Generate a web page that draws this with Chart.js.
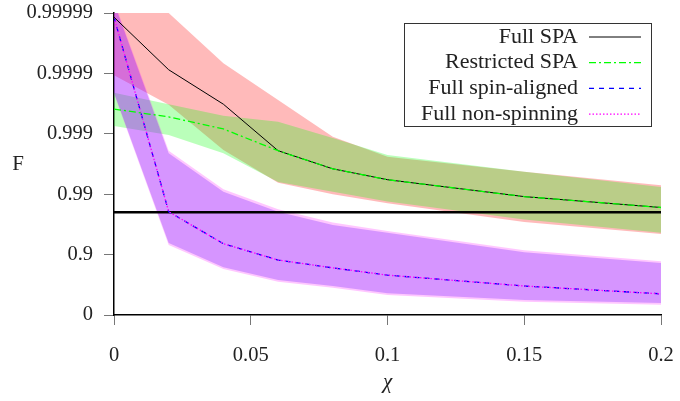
<!DOCTYPE html>
<html>
<head>
<meta charset="utf-8">
<script src="https://cdn.jsdelivr.net/npm/chart.js@4"></script>
<style>
  html, body { margin: 0; padding: 0; background: #fff; }
  #wrap { width: 680px; height: 401px; position: relative; }
</style>
</head>
<body>
<div id="wrap"><canvas id="myChart" width="680" height="401"></canvas></div>
<script>
// chi values (x axis)
const chi = [0, 0.02, 0.04, 0.06, 0.08, 0.1, 0.15, 0.2];

// y values are in "nines": -log10(1 - F), so 0.99 -> 2, 0.999 -> 3 ...
const fullSPA = [4.93, 4.06, 3.49, 2.72, 2.42, 2.24, 1.96, 1.78];
const fullSPAHigh = [5.2, 5.0, 4.17, 3.56, 2.95, 2.62, 2.37, 2.15];
const fullSPALow = [3.97, 3.48, 2.73, 2.19, 2.0, 1.85, 1.54, 1.34];

const restrictedSPA = [3.41, 3.28, 3.08, 2.72, 2.42, 2.24, 1.96, 1.78];
const restrictedHigh = [3.68, 3.49, 3.3, 3.2, 2.93, 2.65, 2.37, 2.12];
const restrictedLow = [3.13, 2.98, 2.68, 2.2, 2.04, 1.88, 1.58, 1.36];

const spinAligned = [4.93, 1.71, 1.18, 0.91, 0.78, 0.66, 0.48, 0.35];
const spinAlignedHigh = [5.17, 2.68, 2.04, 1.71, 1.49, 1.36, 1.04, 0.86];
const spinAlignedLow = [3.68, 1.19, 0.79, 0.58, 0.48, 0.36, 0.25, 0.2];

const nonSpinning = [4.93, 1.71, 1.18, 0.91, 0.78, 0.66, 0.48, 0.35];
const nonSpinningHigh = [5.2, 2.72, 2.08, 1.75, 1.53, 1.39, 1.07, 0.89];
const nonSpinningLow = [3.66, 1.16, 0.76, 0.55, 0.45, 0.33, 0.22, 0.17];

// F = 0.98 threshold line
const threshold = [1.7, 1.7];
const thresholdChi = [0, 0.2];

const fTickLabels = ['0', '0.9', '0.99', '0.999', '0.9999', '0.99999'];
const seriesNames = ['Full SPA', 'Restricted SPA', 'Full spin-aligned', 'Full non-spinning'];

const SERIF = '"Liberation Serif", "DejaVu Serif", serif';

function pts(xs, ys) {
  return xs.map((x, i) => ({ x: x, y: ys[i] }));
}

// band = upper edge filled down to the next dataset (lower edge)
function band(high, low, color) {
  return [
    { data: pts(chi, high), fill: '+1', backgroundColor: color, borderWidth: 0, pointRadius: 0 },
    { data: pts(chi, low), fill: false, borderWidth: 0, pointRadius: 0 }
  ];
}

const datasets = [
  // lines (first index is drawn on top)
  { label: seriesNames[1], data: pts(chi, restrictedSPA), borderColor: '#00ff00', borderWidth: 1.3,
    borderDash: [7, 3, 2, 3], fill: false, pointRadius: 0 },
  { label: seriesNames[0], data: pts(chi, fullSPA), borderColor: '#000', borderWidth: 1,
    fill: false, pointRadius: 0 },
  { label: seriesNames[3], data: pts(chi, nonSpinning), borderColor: '#ff00ff', borderWidth: 1.3,
    borderDash: [1.5, 2], fill: false, pointRadius: 0 },
  { label: seriesNames[2], data: pts(chi, spinAligned), borderColor: '#0000ff', borderWidth: 1.3,
    borderDash: [5, 5], fill: false, pointRadius: 0 },
  { data: pts(thresholdChi, threshold), borderColor: '#000', borderWidth: 2.5, fill: false, pointRadius: 0 },
  // shaded bands (first index ends up on top)
  ...band(spinAlignedHigh, spinAlignedLow, 'rgba(90, 0, 255, 0.25)'),
  ...band(nonSpinningHigh, nonSpinningLow, 'rgba(255, 0, 255, 0.22)'),
  ...band(restrictedHigh, restrictedLow, 'rgba(0, 255, 0, 0.27)'),
  ...band(fullSPAHigh, fullSPALow, 'rgba(255, 0, 0, 0.27)')
];

// Draws the boxed legend (text left of the sample line) and the unrotated "F"
const extras = {
  id: 'extras',
  afterDraw(chart) {
    const ctx = chart.ctx;
    const area = chart.chartArea;
    ctx.save();
    ctx.fillStyle = '#222';
    ctx.font = '21px ' + SERIF;
    ctx.textAlign = 'center';
    ctx.textBaseline = 'middle';
    ctx.fillText('F', 18, (area.top + area.bottom) / 2);

    // legend box
    const box = { x: 404.5, y: 23.5, w: 247, h: 103 };
    ctx.fillStyle = '#fff';
    ctx.fillRect(box.x, box.y, box.w, box.h);
    ctx.strokeStyle = '#333';
    ctx.lineWidth = 1;
    ctx.strokeRect(box.x, box.y, box.w, box.h);

    ctx.font = '22px ' + SERIF;
    seriesNames.forEach((name, i) => {
      const ds = chart.data.datasets.find(d => d.label === name);
      const y = 37 + i * 25.7;
      ctx.fillStyle = '#222';
      ctx.textAlign = 'right';
      ctx.fillText(name, 578, y);
      ctx.beginPath();
      ctx.strokeStyle = ds.borderColor;
      ctx.lineWidth = ds.borderWidth;
      ctx.setLineDash(ds.borderDash || []);
      ctx.moveTo(589, y);
      ctx.lineTo(641, y);
      ctx.stroke();
    });
    ctx.restore();
  }
};

new Chart(document.getElementById('myChart').getContext('2d'), {
  type: 'line',
  data: { datasets: datasets },
  options: {
    responsive: false,
    animation: false,
    layout: { padding: { top: 13, right: 19, left: 0, bottom: 0 } },
    scales: {
      x: {
        type: 'linear',
        min: 0,
        max: 0.2,
        afterFit: (scale) => {
          scale.height = 86;
          scale.paddingLeft = 0;
          scale.paddingRight = 0;
        },
        border: { display: true, color: '#000', width: 1.5 },
        grid: { drawOnChartArea: false, drawTicks: true, tickLength: 10, color: '#777' },
        ticks: {
          stepSize: 0.05,
          padding: 18,
          color: '#222',
          font: { family: SERIF, size: 20.5 },
          callback: (v) => String(+v.toFixed(2))
        },
        title: {
          display: true,
          text: 'χ',
          color: '#222',
          font: { family: SERIF, size: 21, style: 'italic' },
          padding: { top: 0, bottom: 6 }
        }
      },
      y: {
        type: 'linear',
        min: 0,
        max: 5,
        afterFit: (scale) => {
          scale.width = 114;
          scale.paddingTop = 0;
          scale.paddingBottom = 0;
        },
        border: { display: true, color: '#000', width: 1.5 },
        grid: { drawOnChartArea: false, drawTicks: true, tickLength: 10, color: '#777' },
        ticks: {
          stepSize: 1,
          padding: 11,
          color: '#222',
          font: { family: SERIF, size: 20.5 },
          callback: (v) => fTickLabels[v]
        }
      }
    },
    plugins: {
      legend: { display: false },
      tooltip: { enabled: false }
    }
  },
  plugins: [extras]
});
</script>
</body>
</html>
